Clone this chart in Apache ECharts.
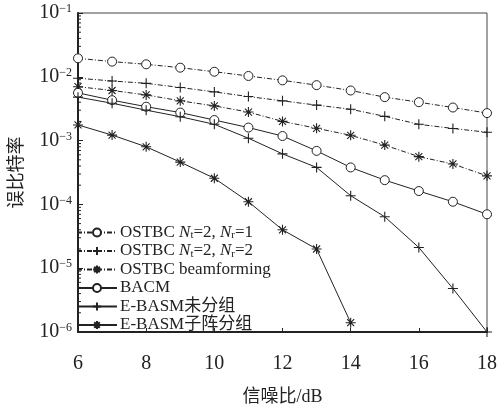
<!DOCTYPE html>
<html><head><meta charset="utf-8">
<script src="https://cdn.jsdelivr.net/npm/echarts@6/dist/echarts.min.js"></script>
<style>html,body{margin:0;padding:0;background:#fff}#c{width:500px;height:414px}</style>
</head><body><div id="c"></div>
<script>
const snr = [6, 7, 8, 9, 10, 11, 12, 13, 14, 15, 16, 17, 18];
const ostbcNr1 = [0.0195, 0.0173, 0.0157, 0.0139, 0.0120, 0.0103, 0.0088, 0.0074, 0.0061, 0.0048, 0.0040, 0.0033, 0.0027];
const ostbcNr2 = [0.0095, 0.0086, 0.0079, 0.0068, 0.0058, 0.0049, 0.0042, 0.0036, 0.0031, 0.0024, 0.0018, 0.00155, 0.00135];
const ostbcBeam = [0.0070, 0.0061, 0.0052, 0.0042, 0.0035, 0.0028, 0.0020, 0.00156, 0.00121, 0.00085, 0.00056, 0.00043, 0.00028];
const bacm = [0.0056, 0.0043, 0.0034, 0.00275, 0.0021, 0.0016, 0.00118, 0.00069, 0.00038, 0.00024, 0.000162, 0.00011, 0.00007];
const ebasmNoGroup = [0.0048, 0.00385, 0.0030, 0.00237, 0.0018, 0.00109, 0.00062, 0.00038, 0.000137, 0.000064, 0.0000211, 0.0000048, 0.000001];
const ebasmSubarray = [0.00176, 0.00122, 0.00080, 0.00046, 0.000257, 0.00011, 0.00004, 0.00002, 0.0000014];
const seriesNames = ['OSTBC Nt=2, Nr=1', 'OSTBC Nt=2, Nr=2', 'OSTBC beamforming', 'BACM', 'E-BASM未分组', 'E-BASM子阵分组'];
const xTicks = [6, 8, 10, 12, 14, 16, 18];
const yMin = 1e-6, yMax = 1e-1;

const INK = '#222';
const FONT = '"Liberation Serif", "Noto Sans CJK SC", serif';
const PLUS = 'path://M0,-1V1M-1,0H1';
const STAR = 'path://M0,-1V1M-1,0H1M-0.7,-0.7L0.7,0.7M-0.7,0.7L0.7,-0.7';
const DASHDOT = [5, 2, 1, 2];

function pairs(vals) { return vals.map((v, i) => [snr[i], v]); }
function mk(name, vals, symbol, size, dashed) {
  const isCircle = symbol === 'circle';
  return {
    name: name, type: 'line', data: pairs(vals),
    symbol: symbol, symbolSize: size, showSymbol: true,
    lineStyle: { color: INK, width: 1, type: dashed ? DASHDOT : 'solid' },
    itemStyle: { color: isCircle ? '#fff' : INK, borderColor: INK, borderWidth: isCircle ? 1 : 1.1 },
    emphasis: { disabled: true }, animation: false
  };
}

const legendLabel = {
  'OSTBC Nt=2, Nr=1': 'OSTBC {i|N}{s|t}=2, {i|N}{s|r}=1',
  'OSTBC Nt=2, Nr=2': 'OSTBC {i|N}{s|t}=2, {i|N}{s|r}=2'
};

const chart = echarts.init(document.getElementById('c'));
chart.setOption({
  animation: false,
  backgroundColor: '#fff',
  grid: { left: 75, right: 10, top: 13, bottom: 82, show: true, borderColor: '#444', borderWidth: 1 },
  xAxis: {
    type: 'value', min: 6, max: 18, interval: 2,
    name: '信噪比/dB', nameLocation: 'middle', nameGap: 56,
    nameTextStyle: { fontFamily: FONT, fontSize: 18, color: INK },
    axisLine: { show: true, lineStyle: { color: INK, width: 2 } },
    axisTick: { show: true, inside: true, length: 4, lineStyle: { color: INK } },
    axisLabel: { fontFamily: FONT, fontSize: 20, color: INK, margin: 22,
      formatter: v => xTicks.indexOf(v) >= 0 ? String(v) : '' },
    splitLine: { show: false }
  },
  yAxis: {
    type: 'log', min: yMin, max: yMax, logBase: 10,
    name: '误比特率', nameLocation: 'middle', nameGap: 52, nameRotate: 90,
    nameTextStyle: { fontFamily: FONT, fontSize: 18, color: INK },
    axisLine: { show: true, lineStyle: { color: INK, width: 2 } },
    axisTick: { show: true, inside: true, length: 5, lineStyle: { color: INK } },
    axisLabel: {
      fontFamily: FONT, color: INK, margin: 6,
      formatter: v => { const e = Math.round(Math.log10(v)); return '{b|10}{s|−' + (-e) + '}'; },
      rich: {
        b: { fontFamily: FONT, fontSize: 20, lineHeight: 20, color: INK },
        s: { fontFamily: FONT, fontSize: 12, lineHeight: 12, verticalAlign: 'top', color: INK }
      }
    },
    splitLine: { show: false }
  },
  legend: {
    orient: 'vertical', left: 76, top: 224, itemWidth: 40, itemHeight: 10, itemGap: 1.5,
    padding: 0, backgroundColor: 'transparent',
    data: seriesNames,
    formatter: n => legendLabel[n] || n,
    textStyle: {
      fontFamily: FONT, fontSize: 17, lineHeight: 17, color: INK, padding: [0, 0, 0, -2],
      rich: {
        i: { fontFamily: FONT, fontSize: 17, lineHeight: 17, fontStyle: 'italic', color: INK },
        s: { fontFamily: FONT, fontSize: 11, lineHeight: 8, verticalAlign: 'bottom', color: INK }
      }
    }
  },
  series: [
    mk(seriesNames[0], ostbcNr1, 'circle', 9, true),
    mk(seriesNames[1], ostbcNr2, PLUS, 10, true),
    mk(seriesNames[2], ostbcBeam, STAR, 10, true),
    mk(seriesNames[3], bacm, 'circle', 9, false),
    mk(seriesNames[4], ebasmNoGroup, PLUS, 10, false),
    mk(seriesNames[5], ebasmSubarray, STAR, 10, false)
  ]
});

// minor log ticks on the left axis
const minor = [];
const x0 = chart.convertToPixel({ xAxisIndex: 0 }, 6);
for (let d = -6; d < -1; d++) {
  for (let m = 2; m <= 9; m++) {
    const y = chart.convertToPixel({ yAxisIndex: 0 }, m * Math.pow(10, d));
    minor.push({ type: 'line', silent: true, shape: { x1: x0, y1: y, x2: x0 + 3, y2: y },
      style: { stroke: INK, lineWidth: 1 } });
  }
}
chart.setOption({ graphic: minor });
</script></body></html>
